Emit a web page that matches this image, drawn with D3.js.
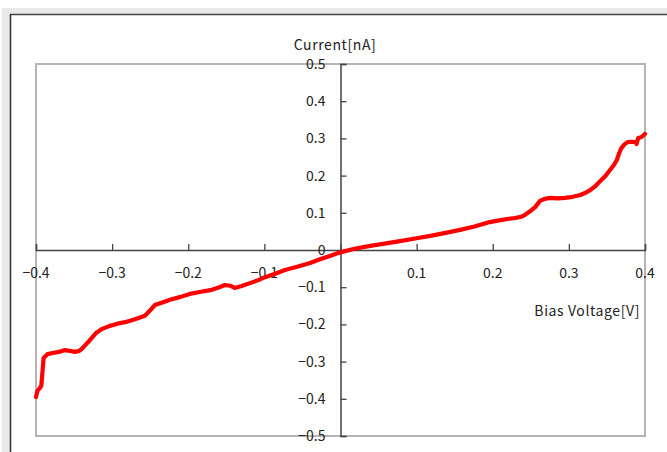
<!DOCTYPE html>
<html>
<head>
<meta charset="utf-8">
<script src="https://cdn.jsdelivr.net/npm/d3@7"></script>
<style>
  html, body { margin: 0; padding: 0; background: #ffffff; }
  svg { display: block; }
  text { font-family: "Noto Sans CJK JP", "Noto Sans", sans-serif; fill: #222; }
</style>
</head>
<body>
<svg id="chart" width="667" height="452"></svg>
<script>
// Bias voltage sweep [V] and measured tunnelling current [nA]
const biasVoltage = [
  -0.400, -0.398, -0.395, -0.393, -0.390, -0.385, -0.378, -0.370, -0.362, -0.356,
  -0.349, -0.344, -0.340, -0.335, -0.329, -0.325, -0.321, -0.313, -0.303, -0.293,
  -0.283, -0.270, -0.257, -0.250, -0.244, -0.234, -0.224, -0.210, -0.198, -0.185,
  -0.171, -0.160, -0.152, -0.145, -0.139, -0.130, -0.119, -0.108, -0.099, -0.085,
  -0.073, -0.057, -0.040, -0.027, -0.014, -0.004, 0.006, 0.020, 0.039, 0.058,
  0.078, 0.098, 0.118, 0.138, 0.157, 0.176, 0.196, 0.212, 0.229, 0.237,
  0.242, 0.249, 0.256, 0.262, 0.268, 0.275, 0.285, 0.295, 0.305, 0.315,
  0.322, 0.328, 0.335, 0.341, 0.348, 0.354, 0.359, 0.363, 0.366, 0.369,
  0.373, 0.377, 0.382, 0.387, 0.389, 0.391, 0.395, 0.400
];
const current = [
  -0.395, -0.378, -0.371, -0.365, -0.290, -0.280, -0.277, -0.274, -0.269, -0.271,
  -0.274, -0.272, -0.266, -0.255, -0.242, -0.232, -0.223, -0.212, -0.204, -0.198,
  -0.194, -0.186, -0.177, -0.162, -0.148, -0.141, -0.134, -0.126, -0.118, -0.113,
  -0.108, -0.101, -0.094, -0.096, -0.102, -0.097, -0.089, -0.081, -0.073, -0.063,
  -0.054, -0.045, -0.035, -0.025, -0.016, -0.009, -0.003, 0.004, 0.011, 0.017,
  0.024, 0.031, 0.038, 0.046, 0.054, 0.063, 0.075, 0.081, 0.086, 0.089,
  0.094, 0.104, 0.116, 0.132, 0.137, 0.140, 0.139, 0.140, 0.143, 0.148,
  0.154, 0.161, 0.172, 0.185, 0.199, 0.215, 0.228, 0.242, 0.260, 0.274,
  0.284, 0.290, 0.291, 0.290, 0.285, 0.301, 0.303, 0.312
];
const xTicks = [-0.4, -0.3, -0.2, -0.1, 0, 0.1, 0.2, 0.3, 0.4];
const xTickLabels = ["-0.4", "-0.3", "-0.2", "-0.1", "", "0.1", "0.2", "0.3", "0.4"];
const yTicks = [-0.5, -0.4, -0.3, -0.2, -0.1, 0, 0.1, 0.2, 0.3, 0.4, 0.5];
const yTickLabels = ["-0.5", "-0.4", "-0.3", "-0.2", "-0.1", "0", "0.1", "0.2", "0.3", "0.4", "0.5"];
const xTitle = "Bias Voltage[V]";
const yTitle = "Current[nA]";

const svg = d3.select("#chart");
const W = 667, H = 452;
const plot = { left: 36, right: 645, top: 64, bottom: 436 };

// window-like frame around the chart area
svg.append("rect").attr("x", 0).attr("y", 0).attr("width", W).attr("height", H).attr("fill", "#ffffff");
svg.append("rect").attr("x", 2).attr("y", 8).attr("width", W - 2).attr("height", H - 8).attr("fill", "#e9e9e9");
svg.append("rect").attr("x", 10).attr("y", 14).attr("width", W - 10).attr("height", H - 14).attr("fill", "#ffffff");
svg.append("line").attr("x1", 10).attr("x2", W).attr("y1", 14.5).attr("y2", 14.5)
  .attr("stroke", "#4a4444").attr("stroke-width", 1.5);
svg.append("line").attr("x1", 10.5).attr("x2", 10.5).attr("y1", 14).attr("y2", H)
  .attr("stroke", "#3a2a2e").attr("stroke-width", 1.5);

const x = d3.scaleLinear().domain([-0.4, 0.4]).range([plot.left, plot.right]);
const y = d3.scaleLinear().domain([-0.5, 0.5]).range([plot.bottom, plot.top]);

// plot area border
svg.append("rect")
  .attr("x", plot.left).attr("y", plot.top)
  .attr("width", plot.right - plot.left).attr("height", plot.bottom - plot.top)
  .attr("fill", "#ffffff").attr("stroke", "#b4b4b4").attr("stroke-width", 2);

const minus = s => s.replace("-", "\u2212");

// horizontal axis crossing at zero current, ticks pointing up
const xAxis = d3.axisTop(x).tickValues(xTicks).tickSize(6).tickFormat("");
const gx = svg.append("g").attr("transform", `translate(0,${y(0)})`).call(xAxis);
gx.select(".domain").attr("stroke", "#444").attr("stroke-width", 1.5);
gx.selectAll(".tick line").attr("stroke", "#444").attr("stroke-width", 1.3);
svg.append("g").selectAll("text").data(xTicks).join("text")
  .attr("x", d => x(d)).attr("y", y(0) + 28)
  .attr("text-anchor", "middle").attr("font-size", 14)
  .text((d, i) => minus(xTickLabels[i]));

// vertical axis crossing at zero bias, ticks pointing right
const yAxis = d3.axisRight(y).tickValues(yTicks).tickSize(6).tickFormat("");
const gy = svg.append("g").attr("transform", `translate(${x(0)},0)`).call(yAxis);
gy.select(".domain").attr("stroke", "#444").attr("stroke-width", 1.5);
gy.selectAll(".tick line").attr("stroke", "#444").attr("stroke-width", 1.3);
svg.append("g").selectAll("text").data(yTicks).join("text")
  .attr("x", x(0) - 15).attr("y", d => y(d) + 5)
  .attr("text-anchor", "end").attr("font-size", 14)
  .text((d, i) => minus(yTickLabels[i]));

// axis titles
svg.append("text").attr("x", 335).attr("y", 50).attr("text-anchor", "middle")
  .attr("font-size", 14).attr("letter-spacing", 0.6).text(yTitle);
svg.append("text").attr("x", 640).attr("y", 316).attr("text-anchor", "end")
  .attr("font-size", 14).attr("letter-spacing", 0.6).text(xTitle);

// I-V curve
const pts = biasVoltage.map((v, i) => [v, current[i]]);
svg.append("path")
  .datum(pts)
  .attr("fill", "none")
  .attr("stroke", "#ff0000")
  .attr("stroke-width", 4.2)
  .attr("stroke-linejoin", "round")
  .attr("stroke-linecap", "round")
  .attr("d", d3.line().x(d => x(d[0])).y(d => y(d[1])));
</script>
</body>
</html>
